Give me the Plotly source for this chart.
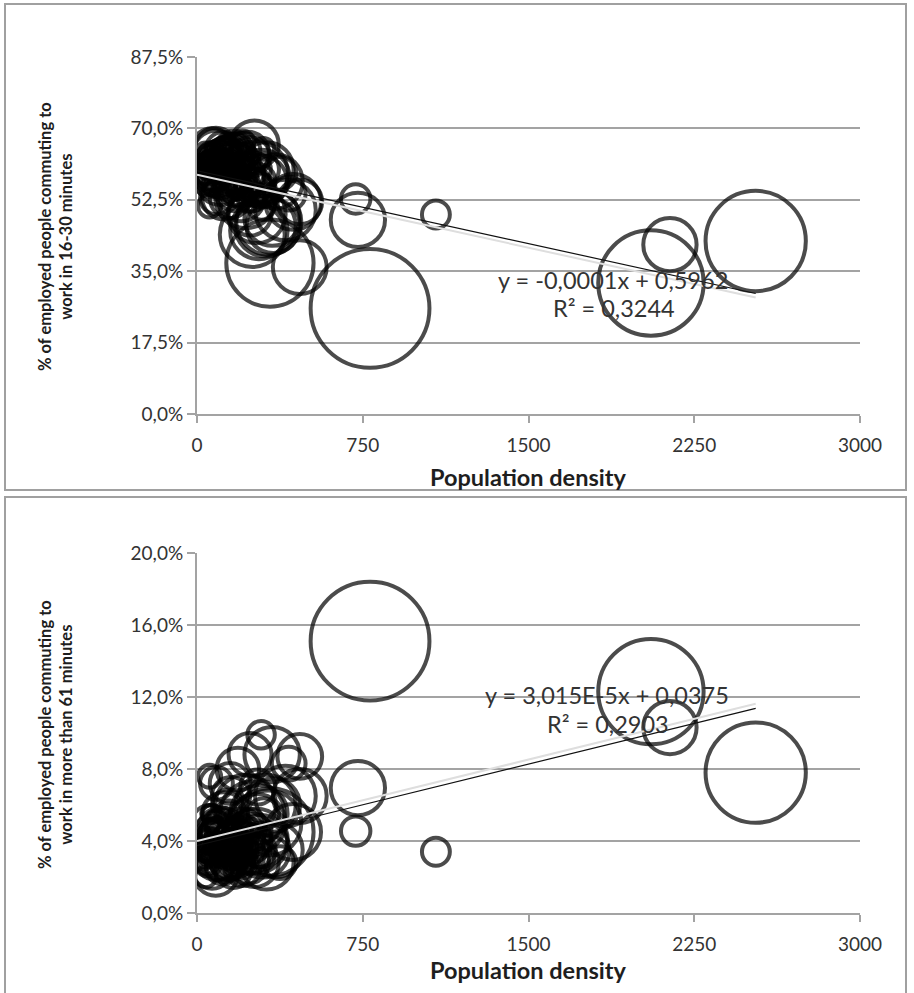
import numpy as np
import plotly.graph_objects as go

# ---------------- data ----------------
PROVINCE = [
    "Torino", "Vercelli", "Novara", "Cuneo", "Asti", "Alessandria", "Biella", "VCO", "Aosta", "Varese",
    "Como", "Sondrio", "Milano", "Bergamo", "Brescia", "Pavia", "Cremona", "Mantova", "Lecco", "Lodi",
    "Monza-Brianza", "Bolzano", "Trento", "Verona", "Vicenza", "Belluno", "Treviso", "Venezia", "Padova", "Rovigo",
    "Udine", "Gorizia", "Trieste", "Pordenone", "Imperia", "Savona", "Genova", "La Spezia", "Piacenza", "Parma",
    "Reggio Emilia", "Modena", "Bologna", "Ferrara", "Ravenna", "Forli-Cesena", "Rimini", "Massa-Carrara", "Lucca", "Pistoia",
    "Firenze", "Livorno", "Pisa", "Arezzo", "Siena", "Grosseto", "Prato", "Perugia", "Terni", "Pesaro-Urbino",
    "Ancona", "Macerata", "Ascoli Piceno", "Fermo", "Viterbo", "Rieti", "Roma", "Latina", "Frosinone", "L'Aquila",
    "Teramo", "Pescara", "Chieti", "Isernia", "Campobasso", "Caserta", "Benevento", "Napoli", "Avellino", "Salerno",
    "Foggia", "Bari", "Taranto", "Brindisi", "Lecce", "BAT", "Potenza", "Matera", "Cosenza", "Catanzaro",
    "Reggio Calabria", "Crotone", "Vibo Valentia", "Trapani", "Palermo", "Messina", "Agrigento", "Caltanissetta", "Enna", "Catania",
    "Ragusa", "Siracusa", "Sassari", "Nuoro", "Cagliari", "Oristano", "Olbia-Tempio", "Ogliastra", "Medio Campidano", "Carbonia-Iglesias",
]
DENSITY = [
    330, 85, 275, 85, 145, 120, 195, 70, 39, 728,
    465, 57, 2054, 400, 265, 185, 204, 175, 415, 290,
    2140, 68, 86, 294, 315, 58, 355, 345, 435, 135,
    110, 300, 1081, 135, 185, 180, 465, 245, 110, 125,
    230, 260, 270, 135, 205, 165, 375, 175, 220, 300,
    280, 280, 170, 105, 70, 50, 718, 105, 108, 140,
    240, 115, 170, 205, 88, 57, 783, 240, 150, 60,
    155, 260, 150, 58, 78, 340, 138, 2528, 154, 220,
    89, 325, 237, 220, 290, 255, 58, 58, 110, 150,
    175, 100, 146, 175, 250, 200, 150, 125, 67, 310,
    195, 190, 70, 45, 122, 54, 45, 30, 66, 86,
]
POP_K = [
    2250, 175, 365, 585, 217, 425, 180, 160, 127, 870,
    590, 180, 3280, 1090, 1240, 535, 357, 408, 336, 223,
    840, 505, 525, 900, 860, 210, 877, 846, 920, 242,
    535, 140, 230, 310, 215, 280, 855, 220, 285, 440,
    525, 700, 990, 355, 385, 390, 320, 200, 390, 290,
    975, 335, 410, 345, 268, 220, 256, 660, 228, 362,
    475, 320, 210, 175, 318, 156, 4170, 545, 490, 298,
    307, 315, 387, 87, 226, 905, 285, 2970, 430, 1090,
    627, 1250, 584, 400, 800, 392, 378, 200, 715, 360,
    550, 175, 163, 430, 1245, 650, 445, 273, 173, 1080,
    318, 400, 330, 160, 560, 163, 157, 58, 100, 129,
]
SHARE_16_30 = [
    0.370, 0.600, 0.570, 0.640, 0.600, 0.620, 0.630, 0.620, 0.640, 0.476,
    0.520, 0.630, 0.321, 0.500, 0.590, 0.560, 0.620, 0.640, 0.540, 0.510,
    0.415, 0.650, 0.650, 0.580, 0.600, 0.610, 0.570, 0.460, 0.520, 0.640,
    0.620, 0.650, 0.489, 0.640, 0.560, 0.550, 0.360, 0.530, 0.610, 0.630,
    0.640, 0.660, 0.490, 0.620, 0.645, 0.650, 0.590, 0.590, 0.590, 0.600,
    0.450, 0.550, 0.620, 0.630, 0.630, 0.610, 0.527, 0.570, 0.610, 0.640,
    0.630, 0.650, 0.655, 0.665, 0.530, 0.510, 0.259, 0.490, 0.530, 0.570,
    0.645, 0.600, 0.620, 0.590, 0.580, 0.480, 0.570, 0.424, 0.590, 0.530,
    0.590, 0.470, 0.550, 0.580, 0.570, 0.560, 0.590, 0.610, 0.590, 0.580,
    0.550, 0.600, 0.610, 0.590, 0.440, 0.530, 0.570, 0.600, 0.610, 0.460,
    0.630, 0.590, 0.590, 0.610, 0.530, 0.630, 0.590, 0.580, 0.560, 0.570,
]
SHARE_61_PLUS = [
    0.045, 0.050, 0.070, 0.022, 0.055, 0.040, 0.035, 0.045, 0.020, 0.0694,
    0.087, 0.040, 0.123, 0.065, 0.040, 0.080, 0.045, 0.030, 0.083, 0.099,
    0.103, 0.025, 0.030, 0.035, 0.028, 0.035, 0.035, 0.060, 0.045, 0.035,
    0.030, 0.030, 0.034, 0.028, 0.040, 0.045, 0.065, 0.050, 0.050, 0.028,
    0.028, 0.028, 0.050, 0.040, 0.025, 0.024, 0.028, 0.040, 0.035, 0.055,
    0.055, 0.035, 0.042, 0.035, 0.035, 0.028, 0.0455, 0.040, 0.050, 0.028,
    0.033, 0.025, 0.030, 0.028, 0.072, 0.076, 0.151, 0.088, 0.072, 0.045,
    0.028, 0.040, 0.040, 0.055, 0.045, 0.088, 0.060, 0.078, 0.065, 0.060,
    0.040, 0.050, 0.040, 0.040, 0.040, 0.045, 0.050, 0.040, 0.045, 0.040,
    0.040, 0.035, 0.040, 0.035, 0.055, 0.045, 0.035, 0.035, 0.045, 0.060,
    0.028, 0.035, 0.035, 0.035, 0.055, 0.035, 0.028, 0.028, 0.055, 0.045,
]

X_TICKS = [0, 750, 1500, 2250, 3000]
Y1_TICKS = [0, 0.175, 0.35, 0.525, 0.70, 0.875]
Y2_TICKS = [0, 0.04, 0.08, 0.12, 0.16, 0.20]

TREND1_SLOPE, TREND1_INTERCEPT = -0.000119, 0.5962
TREND1_SHADOW_INTERCEPT = 0.5862
TREND2_SLOPE, TREND2_INTERCEPT = 3.015e-5, 0.0375
TREND2_SHADOW_INTERCEPT = 0.0400

EQ1_TEXT, R2_1_TEXT = "y = -0,0001x + 0,5962", "R² = 0,3244"
EQ2_TEXT, R2_2_TEXT = "y = 3,015E-5x + 0,0375", "R² = 0,2903"
X_TITLE = "Population density"
Y1_TITLE = ["% of employed people commuting to", "work in 16-30 minutes"]
Y2_TITLE = ["% of employed people commuting to", "work in more than 61 minutes"]

# ---------------- styling / layout ----------------
W, H = 914, 993
FONT = "Lato"
GRID = "#a3a3a3"
TEXT = "#333333"
TITLE_COLOR = "#1e1e1e"
SIZE_K = 1.84


def px(x):
    return x / W


def py(y):
    return 1 - y / H


sizes = SIZE_K * np.sqrt(np.array(POP_K, dtype=float))
x_line = np.array([0.0, float(max(DENSITY))])

fig = go.Figure()

for ax, yvals, slope, icpt, shadow in [
    ("", SHARE_16_30, TREND1_SLOPE, TREND1_INTERCEPT, TREND1_SHADOW_INTERCEPT),
    ("2", SHARE_61_PLUS, TREND2_SLOPE, TREND2_INTERCEPT, TREND2_SHADOW_INTERCEPT),
]:
    fig.add_trace(go.Scatter(
        x=DENSITY, y=yvals, mode="markers", text=PROVINCE,
        xaxis="x" + ax, yaxis="y" + ax, cliponaxis=True,
        marker=dict(size=sizes, sizemode="diameter", color="rgba(0,0,0,0)",
                    line=dict(color="#000000", width=4)),
        showlegend=False,
    ))
    fig.add_trace(go.Scatter(
        x=x_line, y=shadow + slope * x_line, mode="lines",
        xaxis="x" + ax, yaxis="y" + ax,
        line=dict(color="#dedede", width=2), showlegend=False, hoverinfo="skip",
    ))
    fig.add_trace(go.Scatter(
        x=x_line, y=icpt + slope * x_line, mode="lines",
        xaxis="x" + ax, yaxis="y" + ax,
        line=dict(color="#111111", width=1.2), showlegend=False, hoverinfo="skip",
    ))

xdom = [px(197), px(860)]
common_x = dict(range=[0, 3000], tickmode="array", tickvals=X_TICKS, showgrid=False,
                zeroline=False, showline=True, linecolor=GRID, linewidth=2,
                ticks="outside", ticklen=7, tickwidth=2, tickcolor=GRID, automargin=False,
                ticklabelstandoff=6,
                tickfont=dict(family=FONT, size=19, color=TEXT), domain=xdom)
common_y = dict(tickmode="array", showgrid=True, gridcolor=GRID, gridwidth=2,
                zeroline=False, showline=True, linecolor=GRID, linewidth=2,
                ticks="outside", ticklen=8, tickwidth=2, tickcolor=GRID, automargin=False,
                tickformat=".1%", tickfont=dict(family=FONT, size=19, color=TEXT))

fig.update_layout(
    width=W, height=H, margin=dict(l=0, r=0, t=0, b=0, pad=0), autosize=False,
    paper_bgcolor="white", plot_bgcolor="white", separators=",.",
    xaxis=dict(**common_x, anchor="y"),
    yaxis=dict(**common_y, range=[0, 0.875], tickvals=Y1_TICKS,
               domain=[py(414), py(57)], anchor="x"),
    xaxis2=dict(**common_x, anchor="y2"),
    yaxis2=dict(**common_y, range=[0, 0.20], tickvals=Y2_TICKS,
                domain=[py(913), py(553)], anchor="x2"),
)

# panel borders
fig.add_shape(type="rect", xref="paper", yref="paper", x0=px(5), x1=px(906),
              y0=py(490), y1=py(4), line=dict(color="#a0a0a0", width=2), layer="below")
fig.add_shape(type="rect", xref="paper", yref="paper", x0=px(5), x1=px(906),
              y0=py(1000), y1=py(497), line=dict(color="#a0a0a0", width=2), layer="below")

ann = []
for ycen_title, ycen_x, ytitle in [(237, 477, Y1_TITLE), (735, 970, Y2_TITLE)]:
    ann.append(dict(text="<b>" + X_TITLE + "</b>", x=px(528), y=py(ycen_x), xref="paper", yref="paper",
                    showarrow=False, font=dict(family=FONT, size=23.5, color=TITLE_COLOR),
                    xanchor="center", yanchor="middle"))
    ann.append(dict(text="<br>".join("<b>" + s + "</b>" for s in ytitle), x=px(55), y=py(ycen_title),
                    xref="paper", yref="paper", textangle=-90, showarrow=False,
                    font=dict(family=FONT, size=16.5, color=TITLE_COLOR), xanchor="center", yanchor="middle"))

for txt, x, y in [(EQ1_TEXT, 613, 280), (R2_1_TEXT, 614, 308), (EQ2_TEXT, 607, 695), (R2_2_TEXT, 608, 724)]:
    ann.append(dict(text=txt, x=px(x), y=py(y), xref="paper", yref="paper", showarrow=False,
                    font=dict(family=FONT, size=23.5, color=TEXT), xanchor="center", yanchor="middle"))

fig.update_layout(annotations=ann)
fig.write_html("out.html", config={"displayModeBar": False},
               post_script="document.body.style.margin='0';")
